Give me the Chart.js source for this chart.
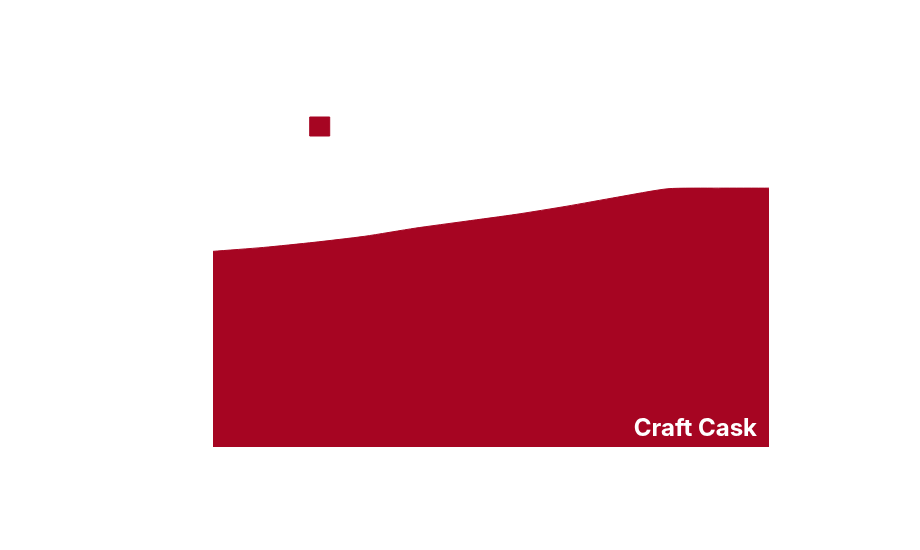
<!DOCTYPE html>
<html>
<head>
<meta charset="utf-8">
<script src="https://cdn.jsdelivr.net/npm/chart.js@4.4.1/dist/chart.umd.min.js"></script>
<style>
  html, body { margin: 0; padding: 0; background: #ffffff; }
  #wrap { width: 920px; height: 550px; }
</style>
</head>
<body>
<div id="wrap"><canvas id="c" width="920" height="550"></canvas></div>
<script>
const years = ['2013','2014','2015','2016','2017','2018','2019','2020','2021','2022','2023','2024'];
const volumeIndex = [65, 66.3, 68, 70, 72.7, 75, 77.3, 80, 83, 85.8, 86, 86];
const yTicks = [0, 20, 40, 60, 80, 100];

const TEXT = '#ffffff';
const GRID = '#ffffff';
const RED = '#A60522';

const brandPlugin = {
  id: 'brand',
  afterDatasetsDraw(chart) {
    const { ctx, chartArea } = chart;
    ctx.save();
    ctx.fillStyle = '#ffffff';
    ctx.font = 'bold 24px Inter, "Liberation Sans", sans-serif';
    ctx.textAlign = 'right';
    ctx.textBaseline = 'alphabetic';
    ctx.fillText('Craft Cask', chartArea.right - 12, chartArea.bottom - 11);
    ctx.restore();
  }
};

new Chart(document.getElementById('c'), {
  type: 'line',
  data: {
    labels: years,
    datasets: [{
      label: 'Annual volume index',
      data: volumeIndex,
      fill: 'origin',
      backgroundColor: RED,
      borderColor: RED,
      borderWidth: 1,
      pointRadius: 0,
      tension: 0.2
    }]
  },
  options: {
    responsive: false,
    animation: false,
    layout: { padding: { left: 20, right: 151, top: 10, bottom: 10 } },
    plugins: {
      title: {
        display: true,
        text: 'Craft Cask volume growth, 2013–2024',
        color: TEXT,
        font: { family: 'Inter', size: 20, weight: 'bold' },
        padding: { top: 16, bottom: 57 }
      },
      legend: {
        display: true,
        labels: {
          color: TEXT,
          boxWidth: 20,
          boxHeight: 19,
          font: { family: 'Inter', size: 14.5 }
        }
      },
      tooltip: { enabled: false }
    },
    scales: {
      x: {
        offset: false,
        border: { color: GRID },
        grid: { color: GRID },
        ticks: { color: TEXT, font: { family: 'Inter', size: 13 } },
        title: { display: true, text: 'Year', color: TEXT, font: { family: 'Inter', size: 14 } },
        afterFit(s) { s.height = 93; }
      },
      y: {
        min: 0,
        max: 100,
        border: { color: GRID },
        grid: { color: GRID },
        afterBuildTicks(s) { s.ticks = yTicks.map(v => ({ value: v })); },
        ticks: { color: TEXT, font: { family: 'Inter', size: 13 } },
        title: { display: true, text: 'Volume index (2024 = 100)', color: TEXT, font: { family: 'Inter', size: 14 } },
        afterFit(s) { s.width = 193; }
      }
    }
  },
  plugins: [brandPlugin]
});
</script>
</body>
</html>
